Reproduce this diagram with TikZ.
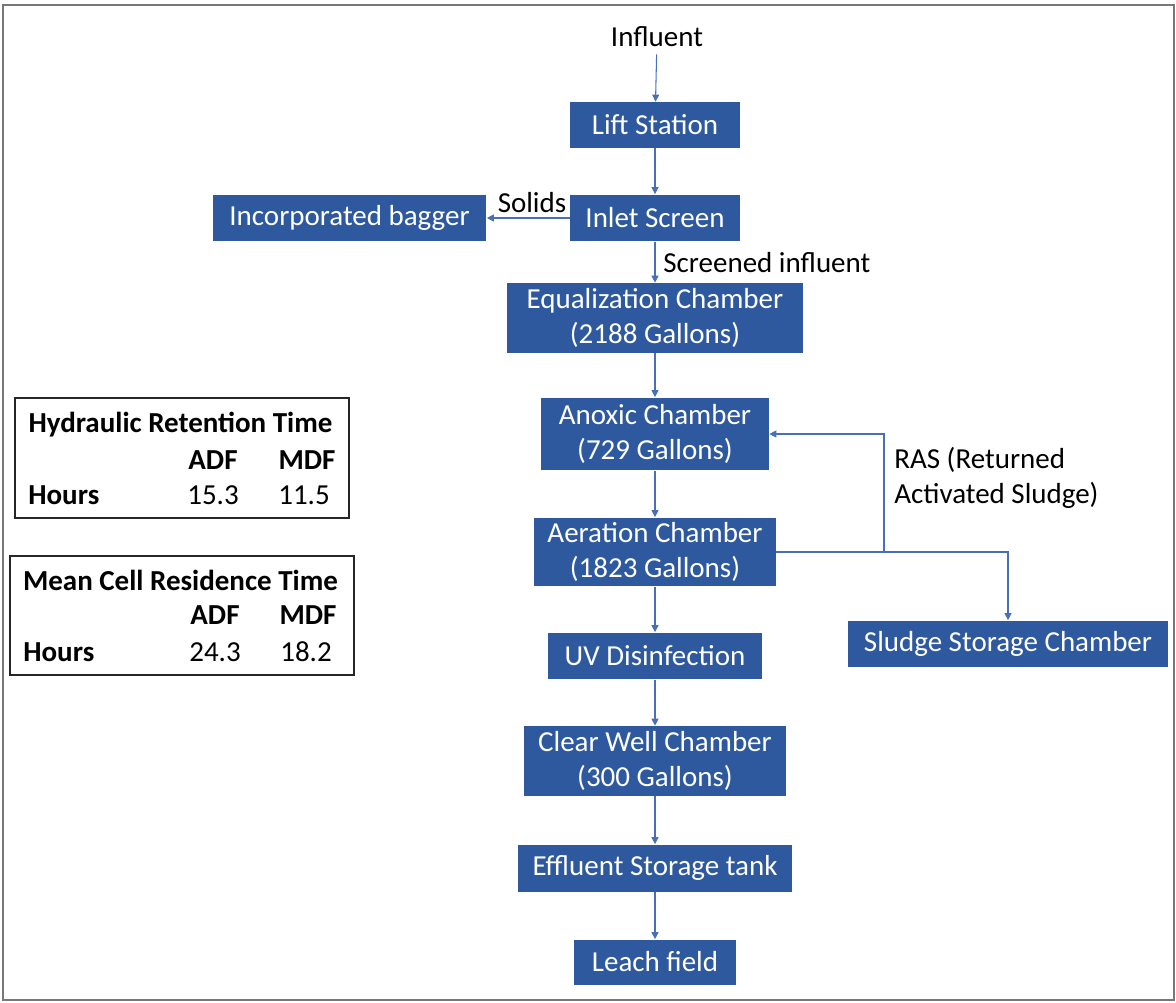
\documentclass[tikz,border=0pt]{standalone}
\usepackage{fontspec}
\setmainfont{Carlito}
\usetikzlibrary{arrows.meta}
\definecolor{boxblue}{RGB}{46,89,158}
\definecolor{lineblue}{RGB}{72,112,184}
\definecolor{framegray}{RGB}{120,120,120}
\newcommand\bodyfont{\fontsize{16.5}{20}\selectfont}
\begin{document}
\begin{tikzpicture}[x=0.02cm,y=-0.02cm,font=\bodyfont,
	unit/.style={fill=boxblue,text=white,align=center,inner sep=0pt},
	lbl/.style={text=black,inner sep=0pt},
	head/.style={lbl,font=\bodyfont\bfseries},
	tbl/.style={draw=black!85,line width=0.9pt,inner sep=0pt}]
\useasboundingbox (0,0) rectangle (1176,1003);
\draw[framegray,line width=1.4pt] (3,5) rectangle (1174,1000);
% process units
\node[unit,minimum width=3.4cm,minimum height=0.92cm] (1) at (655,125) {Lift Station};
\node[unit,minimum width=3.4cm,minimum height=0.94cm] (2) at (655,218) {Inlet Screen};
\node[unit,minimum width=5.48cm,minimum height=0.94cm] (3) at (349.5,218) {Incorporated bagger};
\node[unit,minimum width=5.92cm,minimum height=1.4cm] (4) at (655,318) {Equalization Chamber\\(2188 Gallons)};
\node[unit,minimum width=4.56cm,minimum height=1.46cm] (5) at (655,434) {Anoxic Chamber\\(729 Gallons)};
\node[unit,minimum width=4.84cm,minimum height=1.38cm] (6) at (655,552) {Aeration Chamber\\(1823 Gallons)};
\node[unit,minimum width=4.3cm,minimum height=0.94cm] (7) at (655,656) {UV Disinfection};
\node[unit,minimum width=5.24cm,minimum height=1.4cm] (8) at (655,761) {Clear Well Chamber\\(300 Gallons)};
\node[unit,minimum width=5.5cm,minimum height=0.94cm] (9) at (655,868) {Effluent Storage tank};
\node[unit,minimum width=3.26cm,minimum height=0.9cm] (10) at (655,962) {Leach field};
\node[unit,minimum width=6.4cm,minimum height=0.94cm] (11) at (1008,644) {Sludge Storage Chamber};
% labels
\node[lbl] (in) at (657,37) {Influent};
\node[lbl] (sol) at (532,203) {Solids};
\node[lbl,anchor=west] (scr) at (663,263) {Screened influent};
\node[lbl,anchor=west,align=left] (ras) at (894,478) {RAS (Returned\\Activated Sludge)};
\coordinate (r) at (884,552);
\begin{scope}[-{Triangle[length=4pt,width=4pt]},lineblue,line width=0.6pt]
\draw[shorten <=4pt] (in) to (1);
\draw (1) to (2);
\draw (2) to (3);
\draw (2) to (4);
\draw (4) to (5);
\draw (5) to (6);
\draw (6) to (7);
\draw (7) to (8);
\draw (8) to (9);
\draw (9) to (10);
\draw (6.east) -| (11.north);
\draw (r) |- (5.east);
\end{scope}
% retention tables
\node[tbl,minimum width=6.68cm,minimum height=2.4cm] (t1) at (182,458) {};
\node[head] (t1t) at (180.5,425) {Hydraulic Retention Time};
\node[head] (t1a) at (213,460) {ADF};
\node[head] (t1m) at (307,460) {MDF};
\node[head,anchor=west] (t1h) at (28,495) {Hours};
\node[lbl] (t1x) at (213,495) {15.3};
\node[lbl] (t1y) at (304,495) {11.5};
\node[tbl,minimum width=6.88cm,minimum height=2.38cm] (t2) at (182,615.5) {};
\node[head] (t2t) at (180.5,580) {Mean Cell Residence Time};
\node[head] (t2a) at (215,615) {ADF};
\node[head] (t2m) at (308,615) {MDF};
\node[head,anchor=west] (t2h) at (23,652) {Hours};
\node[lbl] (t2x) at (215,652) {24.3};
\node[lbl] (t2y) at (306,652) {18.2};
\end{tikzpicture}
\end{document}
